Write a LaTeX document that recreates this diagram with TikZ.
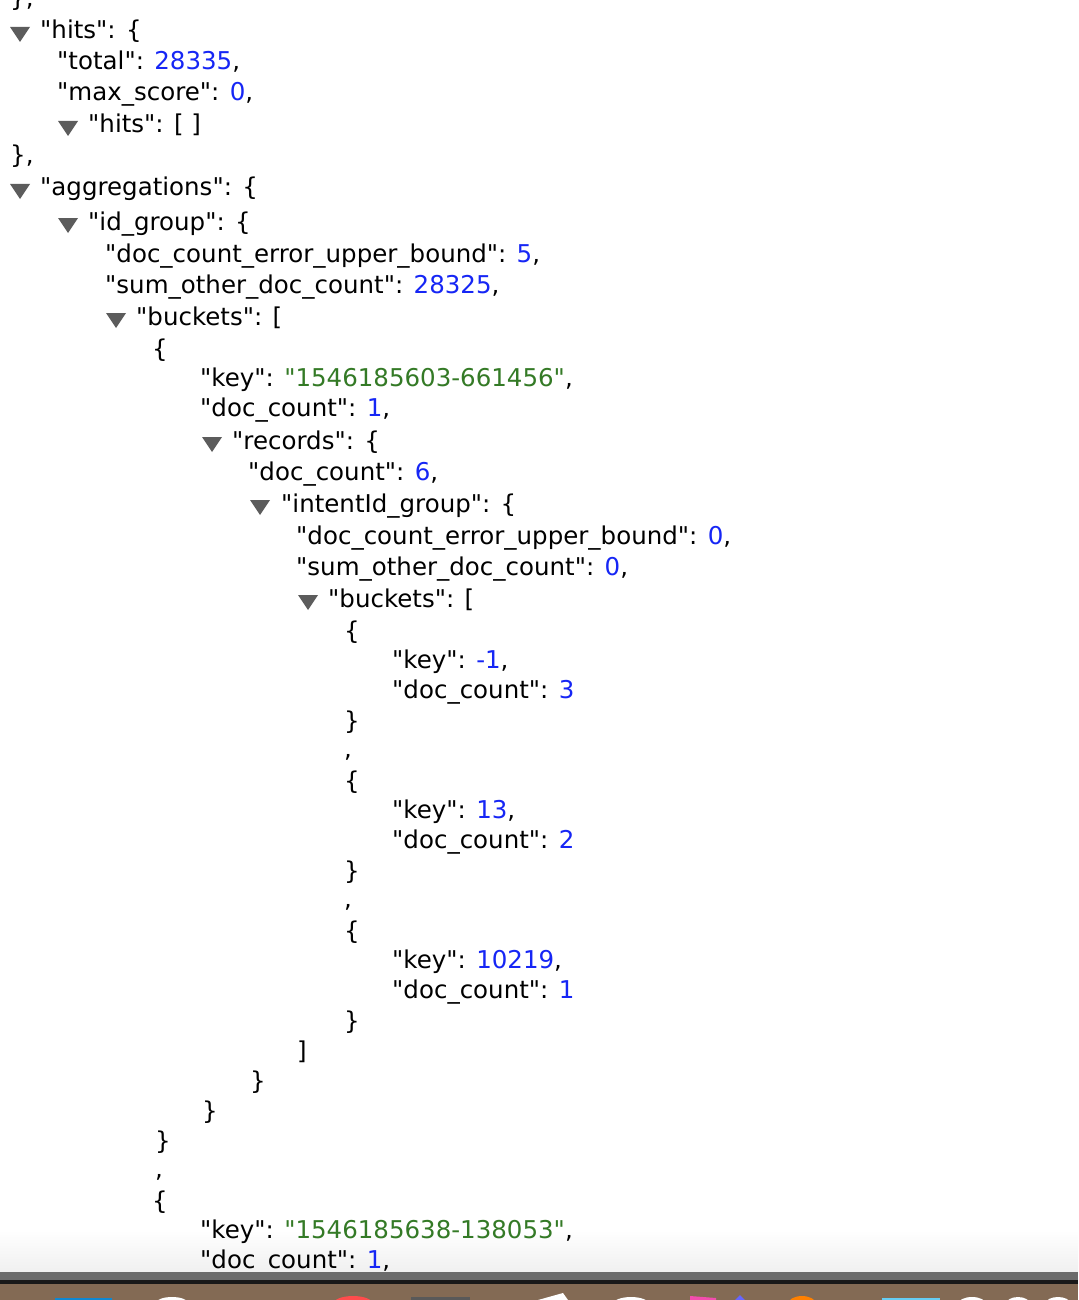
\documentclass[tikz,border=0pt]{standalone}
\usepackage{fontspec}
\setmainfont{DejaVu Sans}[Ligatures=TeXOff]
\usepackage{xcolor}
\definecolor{jsnum}{RGB}{22,38,245}
\definecolor{jsstr}{RGB}{52,122,38}
\definecolor{trigray}{RGB}{92,92,92}
\definecolor{dock}{RGB}{131,106,84}
\newcommand\jnum[1]{\textcolor{jsnum}{#1}}
\newcommand\jstr[1]{\textcolor{jsstr}{"#1"}}
\newcommand\jtri[2]{\fill[trigray] (#1-10,#2-12) -- (#1+10,#2-12) -- (#1,#2+3) -- cycle;}

\begin{document}
\begin{tikzpicture}[x=1pt,y=-1pt,
    jline/.style={anchor=base west,inner sep=0pt,font=\fontsize{24.5}{28}\selectfont}]
            \useasboundingbox (0,0) rectangle (1078,1300);
            \fill[white] (0,0) rectangle (1078,1300);
            \shade[top color=white,bottom color=black!6] (0,1230) rectangle (1078,1272);
            % hits
            \node[jline] (close0) at (10,7) {\},};
            \jtri{20}{39}
            \node[jline] (hits) at (40,39) {"hits": \{};
            \node[jline] (total) at (57,70) {"total": \jnum{28335},};
            \node[jline] (maxscore) at (57,101) {"max\_score": \jnum{0},};
            \jtri{68}{133}
            \node[jline] (hitsarr) at (88,133) {"hits": [ ]};
            \node[jline] (close1) at (10,164) {\},};
            % aggregations
            \jtri{20}{196}
            \node[jline] (aggs) at (40,196) {"aggregations": \{};
            \jtri{68}{230}
            \node[jline] (idgroup) at (88,230) {"id\_group": \{};
            \node[jline] (errA) at (105,262) {"doc\_count\_error\_upper\_bound": \jnum{5},};
            \node[jline] (sumA) at (105,293) {"sum\_other\_doc\_count": \jnum{28325},};
            \jtri{116}{325}
            \node[jline] (bucketsA) at (136,325) {"buckets": [};
            \node[jline] (openA) at (152,357) {\{};
            \node[jline] (keyA) at (200,386) {"key": \jstr{1546185603-661456},};
            \node[jline] (countA) at (200,416) {"doc\_count": \jnum{1},};
            \jtri{212}{449}
            \node[jline] (records) at (232,449) {"records": \{};
            \node[jline] (countR) at (248,480) {"doc\_count": \jnum{6},};
            \jtri{260}{512}
            \node[jline] (intent) at (281,512) {"intentId\_group": \{};
            \node[jline] (errB) at (296,544) {"doc\_count\_error\_upper\_bound": \jnum{0},};
            \node[jline] (sumB) at (296,575) {"sum\_other\_doc\_count": \jnum{0},};
            \jtri{308}{607}
            \node[jline] (bucketsB) at (328,607) {"buckets": [};
            % inner buckets
            \node[jline] (openB1) at (344,639) {\{};
            \node[jline] (keyB1) at (392,668) {"key": \jnum{-1},};
            \node[jline] (countB1) at (392,698) {"doc\_count": \jnum{3}};
            \node[jline] (closeB1) at (344,729) {\}};
            \node[jline] (sepB1) at (344,757) {,};
            \node[jline] (openB2) at (344,789) {\{};
            \node[jline] (keyB2) at (392,818) {"key": \jnum{13},};
            \node[jline] (countB2) at (392,848) {"doc\_count": \jnum{2}};
            \node[jline] (closeB2) at (344,879) {\}};
            \node[jline] (sepB2) at (344,907) {,};
            \node[jline] (openB3) at (344,939) {\{};
            \node[jline] (keyB3) at (392,968) {"key": \jnum{10219},};
            \node[jline] (countB3) at (392,998) {"doc\_count": \jnum{1}};
            \node[jline] (closeB3) at (344,1029) {\}};
            \node[jline] (endB) at (297,1059) {]};
            \node[jline] (endintent) at (250,1089) {\}};
            \node[jline] (endrecords) at (202,1119) {\}};
            \node[jline] (closeA) at (155,1149) {\}};
            \node[jline] (sepA) at (155,1177) {,};
            \node[jline] (openA2) at (152,1209) {\{};
            \node[jline] (keyA2) at (200,1238) {"key": \jstr{1546185638-138053},};
            \node[jline] (countA2) at (200,1268) {"doc\_count": \jnum{1},};
            % window edge and dock
            \fill[black!58] (0,1272) rectangle (1078,1280);
            \fill[black!90] (0,1280) rectangle (1078,1284);
            \fill[dock] (0,1284) rectangle (1078,1300);
            \fill[cyan!70!blue] (55,1298) rectangle (112,1300);
            \fill[white] (172,1303) ellipse (16 and 6);
            \fill[red!70] (353,1304) ellipse (20 and 8);
            \fill[black!65] (411,1297) rectangle (470,1300);
            \fill[white] (538,1300) -- (563,1293) -- (568,1300) -- cycle;
            \fill[white] (631,1304) ellipse (18 and 7);
            \fill[magenta!70] (690,1296) -- (716,1298) -- (716,1300) -- (690,1300) -- cycle;
            \fill[blue!60] (735,1300) -- (740,1295) -- (745,1300) -- cycle;
            \fill[orange] (802,1304) ellipse (14 and 8);
            \fill[cyan!60] (882,1298) rectangle (940,1300);
            \fill[white] (972,1304) ellipse (14 and 7);
            \fill[white] (1018,1304) ellipse (12 and 7);
            \fill[white] (1058,1303) ellipse (12 and 6);
        \end{tikzpicture}
\end{document}
